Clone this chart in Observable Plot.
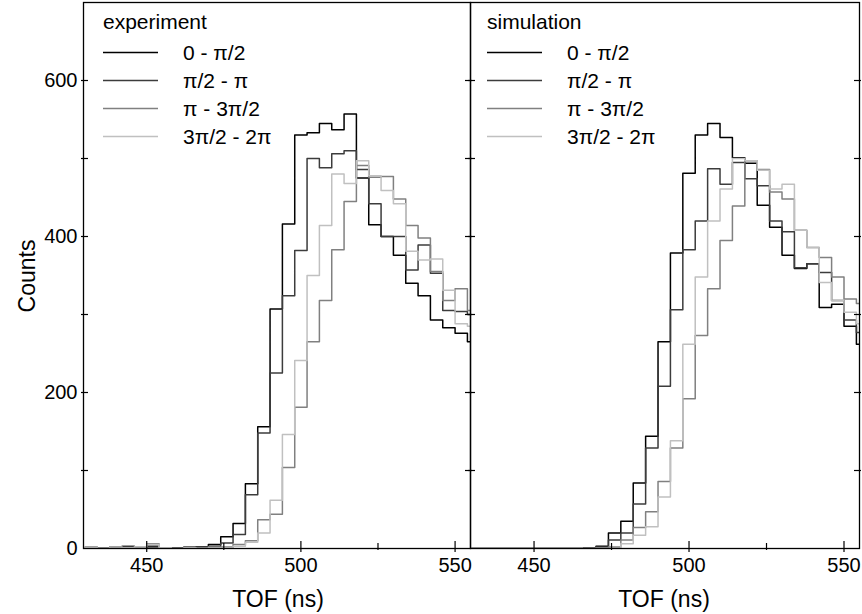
<!DOCTYPE html>
<html><head><meta charset="utf-8">
<script src="https://cdn.jsdelivr.net/npm/d3@7"></script>
<script src="https://cdn.jsdelivr.net/npm/@observablehq/plot@0.6"></script>
<style>
body{margin:0;background:#fff;}
#chart{position:relative;width:862px;height:614px;font-family:"Liberation Sans",Arial,sans-serif;color:#000;}
#chart svg{position:absolute;top:0;overflow:visible;}
.lbl{position:absolute;font-size:23px;white-space:nowrap;}
</style></head><body><div id="chart"></div>
<script>
// bin start (ns), 4 ns bins
const binStart = [426,430,434,438,442,446,450,454,458,462,466,470,474,478,482,486,490,494,498,502,506,510,514,518,522,526,530,534,538,542,546,550,554];
const binEnd = 558;
const seriesNames = ["0 - π/2", "π/2 - π", "π - 3π/2", "3π/2 - 2π"];
const seriesColors = ["#000000", "#3c3c3c", "#808080", "#c0c0c0"];

// experiment
const exp0 = [1,1,1,2,2,1,3,1,0,1,2,5,15,32,83,156,307,416,530,533,545,537,557,475,415,400,376,340,324,293,283,276,265];
const exp1 = [0,1,1,1,3,1,2,1,1,2,2,3,7,18,69,148,225,324,382,500,488,506,510,486,442,400,400,357,389,353,305,304,300];
const exp2 = [1,2,1,1,0,2,6,1,0,0,1,2,2,5,10,37,44,104,181,265,318,383,445,491,476,477,448,414,398,355,318,333,305];
const exp3 = [1,1,0,2,1,2,5,1,0,1,0,1,1,3,8,20,62,146,241,350,414,480,468,497,478,459,442,381,370,371,331,288,285];
// simulation
const sim0 = [0,0,0,0,0,0,0,0,0,0,1,3,20,35,84,144,265,379,481,530,545,527,501,494,440,412,376,359,365,309,313,285,262];
const sim1 = [0,0,0,0,0,0,0,0,0,0,1,2,11,20,57,129,208,306,383,420,487,467,495,474,465,420,406,360,365,354,318,293,277];
const sim2 = [0,0,0,0,0,0,0,0,0,0,0,1,2,11,27,47,86,129,192,273,333,395,439,497,486,457,448,408,386,373,348,320,314];
const sim3 = [0,0,0,0,0,0,0,0,0,0,0,0,0,6,17,28,66,138,262,348,420,461,500,497,485,461,467,408,386,341,318,303,288];

const xDomain = [429.5, 555];
const yDomain = [0, 700];
const xMajor = [450, 500, 550];
const xMinor = [475, 525];
const yLabels = [0, 200, 400, 600];
const yTicks = [100, 200, 300, 400, 500, 600];

function rowsOf(arrs) {
  const rows = [];
  arrs.forEach((vals, i) => {
    vals.forEach((v, j) => rows.push({s: seriesNames[i], t: binStart[j], v}));
    rows.push({s: seriesNames[i], t: binEnd, v: vals[vals.length - 1]});
  });
  return rows;
}

const H = 614, mT = 2, mB = 66;
const frameH = H - mT - mB;

function panel({width, mL, mR, rows, showY}) {
  const frameW = width - mL - mR;
  const marks = [
    Plot.line(rows, {x: "t", y: "v", z: "s", stroke: "s", curve: "step-after", strokeWidth: 1.5, clip: true}),
    Plot.frame({stroke: "#000", strokeWidth: 1.3}),
    Plot.tickX(xMajor, {x: d => d, insetTop: frameH - 7, insetBottom: -4, stroke: "#000", strokeWidth: 1.2}),
    Plot.tickX(xMinor, {x: d => d, insetTop: frameH - 5, insetBottom: -2, stroke: "#000", strokeWidth: 1.2}),
    Plot.tickY(yTicks, {y: d => d, insetLeft: -2, insetRight: frameW - 5, stroke: "#000", strokeWidth: 1.2}),
    Plot.tickY(yTicks, {y: d => d, insetLeft: frameW - 5, insetRight: -2, stroke: "#000", strokeWidth: 1.2}),
    Plot.axisX({ticks: xMajor, tickSize: 0, tickPadding: 9, fontSize: 20, label: null, tickFormat: d => String(d)})
  ];
  if (showY) marks.push(Plot.axisY({ticks: yLabels, tickSize: 0, tickPadding: 6, fontSize: 20, label: null, tickFormat: d => String(d)}));
  return Plot.plot({
    width, height: H, marginLeft: mL, marginRight: mR, marginTop: mT, marginBottom: mB,
    x: {domain: xDomain, axis: null},
    y: {domain: yDomain, axis: null},
    color: {domain: seriesNames, range: seriesColors},
    style: {fontFamily: '"Liberation Sans", Arial, sans-serif', fontSize: "20px", color: "#000", background: "transparent"},
    marks
  });
}

const chart = document.getElementById("chart");
const left = panel({width: 471, mL: 83, mR: 1, rows: rowsOf([exp0, exp1, exp2, exp3]), showY: true});
left.style.left = "0px";
const right = panel({width: 392, mL: 0, mR: 3, rows: rowsOf([sim0, sim1, sim2, sim3]), showY: false});
right.style.left = "470px";
chart.appendChild(left);
chart.appendChild(right);

function legend(svgEl, title, x0) {
  const g = d3.select(svgEl).append("g")
    .attr("font-family", '"Liberation Sans", Arial, sans-serif')
    .attr("font-size", 21)
    .attr("text-anchor", "start");
  g.append("text").attr("x", x0).attr("y", 29).text(title);
  seriesNames.forEach((name, i) => {
    const y = 52.5 + i * 28;
    g.append("line").attr("x1", x0).attr("x2", x0 + 55).attr("y1", y).attr("y2", y)
      .attr("stroke", seriesColors[i]).attr("stroke-width", 1.5);
    g.append("text").attr("x", x0 + 80).attr("y", y).attr("dy", "0.36em").text(name);
  });
}
legend(left, "experiment", 103);
legend(right, "simulation", 17);

function label(text, x, y, rotate) {
  const d = document.createElement("div");
  d.className = "lbl";
  d.textContent = text;
  d.style.left = x + "px";
  d.style.top = y + "px";
  d.style.transform = "translate(-50%,-50%)" + (rotate ? " rotate(-90deg)" : "");
  chart.appendChild(d);
}
label("TOF (ns)", 278, 599);
label("TOF (ns)", 664, 599);
label("Counts", 27, 276, true);
</script>
</body></html>
